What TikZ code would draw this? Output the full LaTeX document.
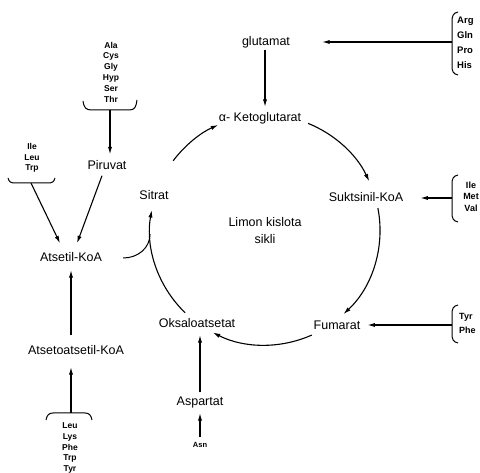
\documentclass[tikz,border=0pt]{standalone}
\usepackage{fontspec}
\setmainfont{Liberation Sans}
\usetikzlibrary{arrows.meta,calc}
\begin{document}
\begin{tikzpicture}[x=1pt,y=1pt,
 main/.style={font=\fontsize{12.5}{14}\selectfont, inner sep=0pt, text height=9pt, text depth=0pt},
 ctext/.style={font=\fontsize{12.5}{17}\selectfont, inner sep=0pt, align=center},
 aa/.style={font=\bfseries\fontsize{8.5}{10.8}\selectfont, align=center, inner sep=0pt},
 arr/.style={line width=1.1pt, -{Latex[length=7.5pt,width=4.2pt]}},
 ln/.style={line width=1pt}]
\useasboundingbox (0,0) rectangle (480,472);
\coordinate (c) at (265,242);
% main nodes
\node[main] (glutamat) at (266,431) {glutamat};
\node[main] (aketo) at (260,355) {α- Ketoglutarat};
\node[main] (sitrat) at (154,277) {Sitrat};
\node[main] (sukt) at (366,275) {Suktsinil-KoA};
\node[main] (fumarat) at (337,147) {Fumarat};
\node[main] (oksalo) at (197,149) {Oksaloatsetat};
\node[ctext] (limon) at (265,241) {Limon kislota\\sikli};
\node[main] (atsetil) at (71,215) {Atsetil-KoA};
\node[main] (piruvat) at (107,307) {Piruvat};
\node[main] (atsetoatsetil) at (76,122) {Atsetoatsetil-KoA};
\node[main] (aspartat) at (200,71) {Aspartat};
\node[aa, font=\bfseries\fontsize{7.5}{9}\selectfont] (asn) at (200,27) {Asn};
% amino acid lists
\node[aa] (ala) at (111,400) {Ala\\Cys\\Gly\\Hyp\\Ser\\Thr};
\node[aa] (ileL) at (32,314) {Ile\\Leu\\Trp};
\node[aa] (leu) at (70,24) {Leu\\Lys\\Phe\\Trp\\Tyr};
\node[aa, align=left, anchor=west, font=\bfseries\fontsize{9.5}{15}\selectfont] (arg) at (457,429.5) {Arg\\Gln\\Pro\\His};
\node[aa, font=\bfseries\fontsize{9}{11.5}\selectfont] (imv) at (471,275.5) {Ile\\Met\\Val};
\node[aa, align=left, anchor=west, font=\bfseries\fontsize{9}{14}\selectfont] (tp) at (459,149) {Tyr\\Phe};
% braces
\coordinate (alab) at (110,362);
\draw[ln] (83,371) .. controls (84,364) and (86,362) .. (92,362) -- (129,362) .. controls (135,362) and (136,365) .. (137,372);
\coordinate (ileb) at (31,289);
\draw[ln] (8,294) .. controls (9,290) and (11,289) .. (15,289) -- (48,289) .. controls (52,289) and (54,290) .. (55,294);
\coordinate (leub) at (71,59);
\draw[ln] (46,52) .. controls (47,57) and (49,59) .. (53,59) -- (85,59) .. controls (89,59) and (91,57) .. (92,52);
\coordinate (argb) at (452,430);
\draw[ln] (458,460) .. controls (453,459) and (452,456) .. (452,450) -- (452,406) .. controls (452,401) and (453,398) .. (458,397);
\coordinate (imvb) at (452,274);
\draw[ln] (458,297) .. controls (453,296) and (452,293) .. (452,288) -- (452,259) .. controls (452,254) and (453,251) .. (458,250);
\coordinate (tpb) at (452,147);
\draw[ln] (458,167) .. controls (453,166) and (452,163) .. (452,158) -- (452,138) .. controls (452,133) and (453,130) .. (458,129);
% cycle arcs
\draw[arr] ($(c)+(143:115)$) arc[start angle=143,end angle=114,radius=115];
\draw[arr] ($(c)+(68:115)$) arc[start angle=68,end angle=25,radius=115];
\draw[arr] ($(c)+(11:115)$) arc[start angle=11,end angle=-47,radius=115];
\draw[arr] ($(c)+(-66:115)$) arc[start angle=-66,end angle=-117,radius=115];
\draw[arr] ($(c)+(226:115)$) arc[start angle=226,end angle=170,radius=115];
\draw[ln] ($(atsetil.east)+(21,-1)$) .. controls (138,214) and (150,224) .. ($(c)+(182:115)$);
% straight arrows
\draw[arr] ($(glutamat.south)+(-1,-4)$) -- ($(glutamat.south |- aketo.north)+(-1,5.5)$);
\draw[arr] (argb) -- ($(glutamat.east |- argb)+(32,0)$);
\draw[arr] (imvb) -- ($(sukt.east |- imvb)+(17,0)$);
\draw[arr] (tpb) -- ($(fumarat.east)+(7,0)$);
\draw[arr] (alab) -- ($(alab |- piruvat.north)+(0,6)$);
\draw[arr] (ileb) -- ($(atsetil.north)+(-11,9)$);
\draw[arr] ($(piruvat.south)+(-5,-6)$) -- ($(atsetil.north)+(6,9)$);
\draw[arr] ($(atsetoatsetil.north -| atsetil)+(0,10)$) -- ($(atsetil.south)+(0,-8.5)$);
\draw[arr] (leub) -- ($(leub |- atsetoatsetil.south)+(0,-12.5)$);
\draw[arr] ($(aspartat.north)+(0,4)$) -- ($(oksalo.south -| aspartat)+(0,-7.5)$);
\draw[arr] ($(asn.north)+(0,5)$) -- ($(aspartat.south)+(0,-7.5)$);
\end{tikzpicture}
\end{document}
